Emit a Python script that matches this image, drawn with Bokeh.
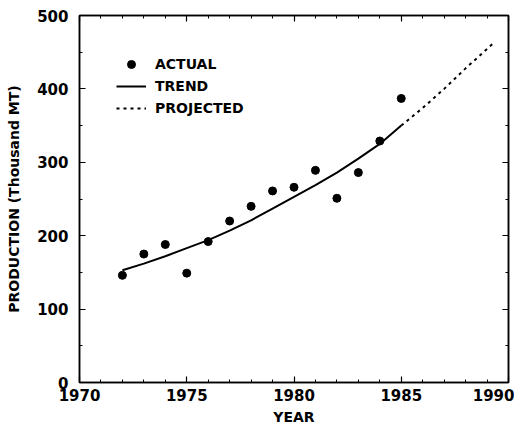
from bokeh.plotting import figure
from bokeh.models import (Range1d, LinearAxis, SingleIntervalTicker, Legend, LegendItem,
                          CustomJSTickFormatter)
from bokeh.embed import file_html
from bokeh.resources import INLINE

# ---- data ----
actual_years = [1972, 1973, 1974, 1975, 1976, 1977, 1978, 1979, 1980, 1981, 1982, 1983, 1984, 1985]
actual_values = [146, 175, 188, 149, 192, 220, 240, 261, 266, 289, 251, 286, 329, 387]

trend_years = [1972, 1973, 1974, 1975, 1976, 1977, 1978, 1979, 1980, 1981, 1982, 1983, 1984, 1985]
trend_values = [153, 162, 172, 183, 194, 207, 221, 237, 253, 269, 286, 305, 325, 350]

proj_years = [1985, 1986, 1987, 1988, 1989.25]
proj_values = [350, 374, 400, 428, 461]

x_label = "YEAR"
y_label = "PRODUCTION (Thousand MT)"
legend_labels = ["ACTUAL", "TREND", "PROJECTED"]

FONT = "DejaVu Sans"

p = figure(width=514, height=427, output_backend="svg", toolbar_location=None,
           x_range=Range1d(1970, 1990), y_range=Range1d(0, 500),
           min_border_left=79, min_border_right=6, min_border_top=15, min_border_bottom=44)

p.xgrid.visible = False
p.ygrid.visible = False
p.outline_line_color = "black"
p.outline_line_width = 1.5
p.background_fill_color = "white"
p.border_fill_color = "white"

def style_axis(ax, show_labels):
    ax.axis_line_color = "black"
    ax.axis_line_width = 1.5
    ax.major_tick_in = 6
    ax.major_tick_out = 0
    ax.minor_tick_in = 3
    ax.minor_tick_out = 0
    ax.major_tick_line_color = "black"
    ax.minor_tick_line_color = "black"
    ax.major_tick_line_width = 1.2
    ax.minor_tick_line_width = 1
    if show_labels:
        ax.major_label_text_font = FONT
        ax.major_label_text_font_style = "bold"
        ax.major_label_text_font_size = "15px"
        ax.major_label_text_color = "black"
        ax.axis_label_text_font = FONT
        ax.axis_label_text_font_style = "bold"
        ax.axis_label_text_font_size = "14px"
        ax.axis_label_text_color = "black"
    else:
        ax.formatter = CustomJSTickFormatter(code="return ''")
        ax.major_label_standoff = 0

p.xaxis.ticker = SingleIntervalTicker(interval=5, num_minor_ticks=5)
p.yaxis.ticker = SingleIntervalTicker(interval=100, num_minor_ticks=2)
p.xaxis.axis_label = x_label
p.yaxis.axis_label = y_label
style_axis(p.xaxis[0], True)
style_axis(p.yaxis[0], True)
p.xaxis.major_label_standoff = 6
p.xaxis.axis_label_standoff = 5
p.yaxis.major_label_standoff = 11
p.yaxis.axis_label_standoff = 12

top_ax = LinearAxis(ticker=SingleIntervalTicker(interval=5, num_minor_ticks=5))
right_ax = LinearAxis(ticker=SingleIntervalTicker(interval=100, num_minor_ticks=2))
style_axis(top_ax, False)
style_axis(right_ax, False)
p.add_layout(top_ax, "above")
p.add_layout(right_ax, "right")

r_pts = p.scatter(actual_years, actual_values, size=8, color="black", marker="circle")
r_trend = p.line(trend_years, trend_values, line_color="black", line_width=2)
r_proj = p.line(proj_years, proj_values, line_color="black", line_width=2, line_dash="3 4")

legend = Legend(items=[
    LegendItem(label=legend_labels[0], renderers=[r_pts]),
    LegendItem(label=legend_labels[1], renderers=[r_trend]),
    LegendItem(label=legend_labels[2], renderers=[r_proj]),
], location=(37, 264))
legend.border_line_alpha = 0
legend.background_fill_alpha = 0
legend.padding = 0
legend.margin = 0
legend.spacing = 2
legend.glyph_width = 30
legend.glyph_height = 20
legend.label_height = 20
legend.label_standoff = 9
legend.label_text_font = FONT
legend.label_text_font_style = "bold"
legend.label_text_font_size = "14px"
legend.label_text_color = "black"
p.add_layout(legend)

open("out.html", "w").write(file_html(p, INLINE))
